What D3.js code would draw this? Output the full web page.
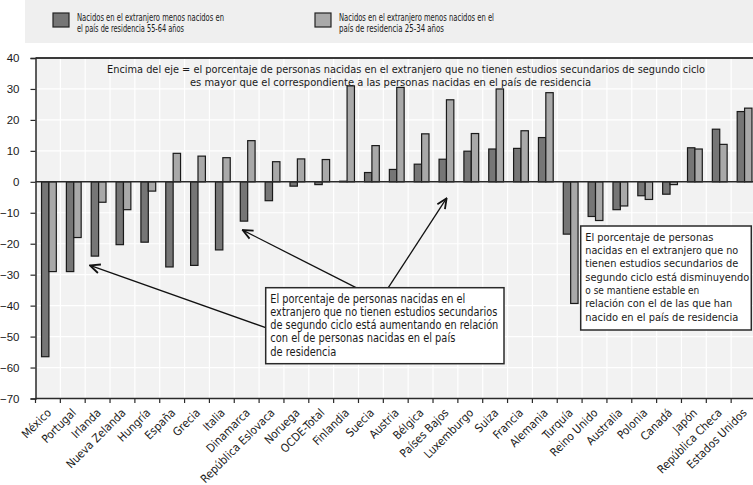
<!DOCTYPE html>
<html lang="es">
<head>
  <meta charset="UTF-8">
  <title>Nacidos en el extranjero menos nacidos en el país de residencia</title>
  <script src="https://d3js.org/d3.v7.min.js"></script>
  <style>
    body { margin: 0; background: #fff; }
    svg text { font-family: "Liberation Sans Narrow", "DejaVu Sans Condensed", "Liberation Sans", sans-serif; fill: #1a1a1a; }
  </style>
</head>
<body>
  <script>
    const countries = ['México', 'Portugal', 'Irlanda', 'Nueva Zelanda', 'Hungría', 'España', 'Grecia', 'Italia',
      'Dinamarca', 'República Eslovaca', 'Noruega', 'OCDE-Total', 'Finlandia', 'Suecia', 'Austria', 'Bélgica',
      'Países Bajos', 'Luxemburgo', 'Suiza', 'Francia', 'Alemania', 'Turquía', 'Reino Unido', 'Australia',
      'Polonia', 'Canadá', 'Japón', 'República Checa', 'Estados Unidos'];

    // nacidos en el extranjero menos nacidos en el país, 55-64 años (barra oscura)
    const diff5564 = [-56.5, -29, -24, -20.3, -19.5, -27.5, -27, -22, -12.7, -6.1, -1.4, -0.9, 0.2, 3, 4, 5.7,
      7.3, 9.9, 10.6, 10.8, 14.3, -16.9, -11.2, -9, -4.5, -4, 11, 17, 22.7];

    // 25-34 años (barra clara)
    const diff2534 = [-29, -18, -6.6, -9, -3, 9.2, 8.3, 7.8, 13.3, 6.5, 7.4, 7.2, 31, 11.7, 30.5, 15.5,
      26.5, 15.6, 30, 16.5, 28.8, -39.3, -12.5, -7.8, -5.7, -0.9, 10.6, 12.1, 23.8];

    const yTicks = [40, 30, 20, 10, 0, -10, -20, -30, -40, -50, -60, -70];

    const w = 753;
    const h = 485;
    const pLeft = 35.5, pRight = 756, pTop = 58, pBottom = 398.5;

    const x0 = d3.scaleBand().domain(countries).range([pLeft, pRight]);
    const x1 = d3.scaleBand().domain(['a', 'b']).range([0, x0.bandwidth()])
      .paddingInner(0).paddingOuter(0.68).align(0.6);
    const y = d3.scaleLinear().domain([-70, 40]).range([pBottom, pTop]);
    const colour = d3.scaleOrdinal().domain(['a', 'b']).range(['#767676', '#a9a9a9']);

    const svg = d3.select('body').append('svg')
      .attr('width', w)
      .attr('height', h);

    // legend band
    svg.append('rect')
      .attr('x', 25).attr('y', 0).attr('width', w - 25).attr('height', 43)
      .attr('fill', '#efefef');

    const legend = [
      { key: 'a', x: 53, lines: ['Nacidos en el extranjero menos nacidos en', 'el país de residencia 55-64 años'], lens: [147, 107] },
      { key: 'b', x: 315, lines: ['Nacidos en el extranjero menos nacidos en el', 'país de residencia 25-34 años'], lens: [155, 105] }
    ];
    legend.forEach(l => {
      svg.append('rect')
        .attr('x', l.x).attr('y', 13).attr('width', 16).attr('height', 14)
        .attr('fill', colour(l.key)).attr('stroke', '#222').attr('stroke-width', 1.2);
      l.lines.forEach((t, i) => {
        svg.append('text')
          .attr('x', l.x + 24).attr('y', 20.5 + i * 11.5)
          .attr('font-size', 11)
          .attr('textLength', l.lens[i]).attr('lengthAdjust', 'spacingAndGlyphs')
          .text(t);
      });
    });

    // plot background + grid
    svg.append('rect')
      .attr('x', pLeft).attr('y', pTop).attr('width', pRight - pLeft).attr('height', pBottom - pTop)
      .attr('fill', '#f2f2f2');

    svg.append('g')
      .selectAll('line')
      .data(yTicks)
      .enter()
      .append('line')
      .attr('x1', pLeft).attr('x2', pRight)
      .attr('y1', d => y(d)).attr('y2', d => y(d))
      .attr('stroke', '#fff').attr('stroke-width', 1.2);

    svg.append('g')
      .selectAll('line')
      .data(countries)
      .enter()
      .append('line')
      .attr('x1', d => x0(d)).attr('x2', d => x0(d))
      .attr('y1', pTop).attr('y2', pBottom)
      .attr('stroke', '#fff').attr('stroke-width', 1.2);

    // bars
    const rows = countries.map((c, i) => ({ c, vals: [{ k: 'a', v: diff5564[i] }, { k: 'b', v: diff2534[i] }] }));

    svg.append('g')
      .selectAll('g')
      .data(rows)
      .enter()
      .append('g')
      .attr('transform', d => `translate(${x0(d.c)},0)`)
      .selectAll('rect')
      .data(d => d.vals)
      .enter()
      .append('rect')
      .attr('x', d => x1(d.k))
      .attr('width', x1.bandwidth())
      .attr('y', d => y(Math.max(0, d.v)))
      .attr('height', d => Math.abs(y(d.v) - y(0)))
      .attr('fill', d => colour(d.k))
      .attr('stroke', '#1a1a1a')
      .attr('stroke-width', 1.2);

    // zero line and frame
    svg.append('line')
      .attr('x1', pLeft).attr('x2', pRight).attr('y1', y(0)).attr('y2', y(0))
      .attr('stroke', '#2a2a2a').attr('stroke-width', 1.5);
    svg.append('line')
      .attr('x1', pLeft).attr('x2', pRight).attr('y1', y(40)).attr('y2', y(40))
      .attr('stroke', '#3a3a3a').attr('stroke-width', 2.2);

    // y axis
    const yAxis = svg.append('g')
      .attr('transform', `translate(${pLeft},0)`)
      .call(d3.axisLeft(y).tickValues(yTicks).tickSize(5).tickPadding(11));
    yAxis.select('.domain').attr('stroke', '#2a2a2a').attr('stroke-width', 1.5);
    yAxis.selectAll('.tick line').attr('stroke', '#2a2a2a').attr('stroke-width', 1.2);
    yAxis.selectAll('text').attr('font-size', 11.5).style('font-family', '"Liberation Sans Narrow", "Liberation Sans", sans-serif');

    // x axis: ticks at category boundaries, labels rotated
    const xAxis = svg.append('g')
      .attr('transform', `translate(0,${pBottom})`);
    xAxis.append('line')
      .attr('x1', pLeft).attr('x2', pRight)
      .attr('stroke', '#2a2a2a').attr('stroke-width', 1.5);
    xAxis.selectAll('.tk')
      .data(countries)
      .enter()
      .append('line')
      .attr('class', 'tk')
      .attr('x1', d => x0(d)).attr('x2', d => x0(d))
      .attr('y1', 0).attr('y2', 4.5)
      .attr('stroke', '#2a2a2a').attr('stroke-width', 1.2);
    xAxis.selectAll('text')
      .data(countries)
      .enter()
      .append('text')
      .attr('text-anchor', 'end')
      .attr('font-size', 11.5)
      .attr('transform', d => `translate(${x0(d) + x0.bandwidth() / 2 + 4},15) rotate(-45)`)
      .text(d => d);

    // top annotation
    const topNote = [
      { t: 'Encima del eje = el porcentaje de personas nacidas en el extranjero que no tienen estudios secundarios de segundo ciclo', x: 107, y: 73.3, len: 598 },
      { t: 'es mayor que el correspondiente a las personas nacidas en el país de residencia', x: 190, y: 85.8, len: 401 }
    ];
    topNote.forEach(n => {
      svg.append('text').attr('x', n.x).attr('y', n.y).attr('font-size', 11)
        .attr('textLength', n.len).attr('lengthAdjust', 'spacingAndGlyphs').text(n.t);
    });

    // arrow marker
    svg.append('defs').append('marker')
      .attr('id', 'arrow')
      .attr('viewBox', '0 0 12 12')
      .attr('refX', 11).attr('refY', 6)
      .attr('markerWidth', 12).attr('markerHeight', 12)
      .attr('markerUnits', 'userSpaceOnUse')
      .attr('orient', 'auto')
      .append('path')
      .attr('d', 'M1,1.5 L11,6 L1,10.5')
      .attr('fill', 'none').attr('stroke', '#111').attr('stroke-width', 1.8);

    const arrows = [
      { from: [265.7, 327.7], cat: 'Irlanda', dx: 4.8, v: -27 },
      { from: [356, 287.7], cat: 'Dinamarca', dx: 8.4, v: -15.6 },
      { from: [388.3, 287.7], cat: 'Países Bajos', dx: 13.6, v: -5.3 }
    ];
    svg.append('g')
      .selectAll('line')
      .data(arrows)
      .enter()
      .append('line')
      .attr('x1', d => d.from[0]).attr('y1', d => d.from[1])
      .attr('x2', d => x0(d.cat) + d.dx).attr('y2', d => y(d.v))
      .attr('stroke', '#111').attr('stroke-width', 1.3)
      .attr('marker-end', 'url(#arrow)');

    // annotation boxes
    const boxes = [
      {
        x: 265.7, y: 287.7, w: 238.3, h: 76, size: 11.5,
        lines: ['El porcentaje de personas nacidas en el', 'extranjero que no tienen estudios secundarios',
          'de segundo ciclo está aumentando en relación', 'con el de personas nacidas en el país', 'de residencia'],
        lens: [195, 227, 228, 185, 66]
      },
      {
        x: 580.7, y: 226, w: 170.6, h: 104, size: 11,
        lines: ['El porcentaje de personas', 'nacidas en el extranjero que no', 'tienen estudios secundarios de',
          'segundo ciclo está disminuyendo', 'o se mantiene estable en', 'relación con el de las que han',
          'nacido en el país de residencia'],
        lens: [128, 153, 153, 164, 114, 147, 153]
      }
    ];
    boxes.forEach(b => {
      svg.append('rect')
        .attr('x', b.x).attr('y', b.y).attr('width', b.w).attr('height', b.h)
        .attr('fill', '#fff').attr('stroke', '#2a2a2a').attr('stroke-width', 1.5);
      b.lines.forEach((t, i) => {
        svg.append('text')
          .attr('x', b.x + 4.6).attr('y', b.y + 14.8 + i * 13.3)
          .attr('font-size', b.size)
          .attr('textLength', b.lens[i]).attr('lengthAdjust', 'spacingAndGlyphs')
          .text(t);
      });
    });
  </script>
</body>
</html>
